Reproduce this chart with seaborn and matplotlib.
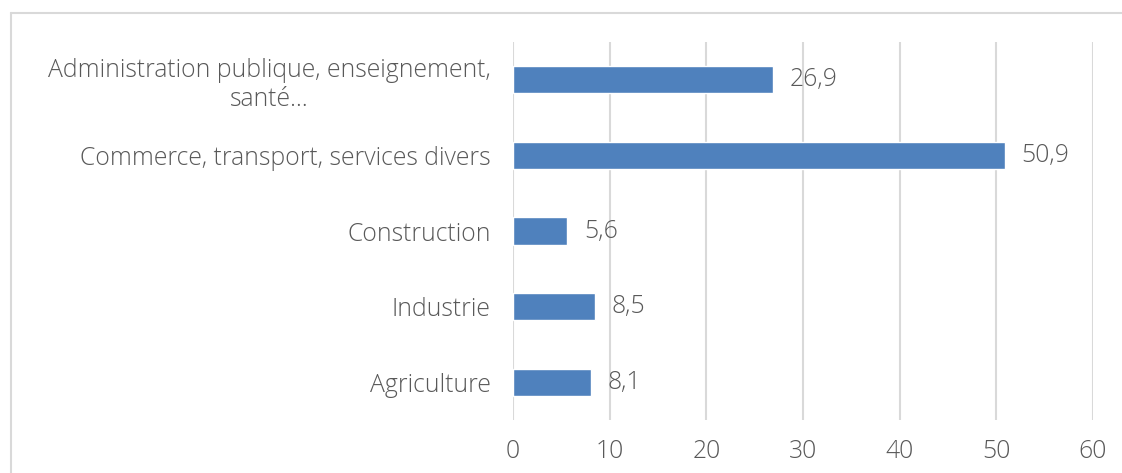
import pandas as pd
import seaborn as sns
import matplotlib.pyplot as plt
from matplotlib.lines import Line2D

# secteurs d'activité (de haut en bas)
secteurs = [
    'Administration publique, enseignement,\nsanté…',
    'Commerce, transport, services divers',
    'Construction',
    'Industrie',
    'Agriculture',
]
parts = [26.9, 50.9, 5.6, 8.5, 8.1]
ticks_x = [0, 10, 20, 30, 40, 50, 60]

df = pd.DataFrame({'secteur': secteurs, 'part': parts})

sns.set_theme(style='white')
plt.rcParams['font.family'] = ['Open Sans', 'DejaVu Sans']
plt.rcParams['font.weight'] = 'light'
text_color = '#595959'
grid_color = '#D9D9D9'
fs = 17.8

fig = plt.figure(figsize=(11.22, 4.73), dpi=100)
ax = fig.add_axes([513 / 1122, 1 - 420 / 473, 580 / 1122, 378 / 473])

sns.barplot(data=df, x='part', y='secteur', orient='h', color='#4F81BD',
            saturation=1, width=0.36, ax=ax)

ax.set_xlim(0, 60)
ax.set_ylim(4.5, -0.5)
ax.set_xticks(ticks_x)
ax.set_xlabel('')
ax.set_ylabel('')
ax.grid(axis='x', color=grid_color, linewidth=1.5)
ax.set_axisbelow(True)
for s in ax.spines.values():
    s.set_visible(False)

ax.tick_params(axis='x', length=0, pad=14, labelsize=fs, labelcolor=text_color)
ax.tick_params(axis='y', length=0, pad=16, labelsize=fs, labelcolor=text_color)
for lbl in ax.get_yticklabels():
    lbl.set_multialignment('center')
    lbl.set_linespacing(1.2)

ax.bar_label(ax.containers[0], labels=[f'{v:.1f}'.replace('.', ',') for v in parts],
             padding=12, fontsize=fs, color=text_color)

# cadre gris clair du graphique
x0, y0 = 11 / 1122, 1 - 13 / 473
fig.add_artist(Line2D([x0, 1], [y0, y0], color=grid_color, linewidth=1.5, transform=fig.transFigure))
fig.add_artist(Line2D([x0, x0], [0, y0], color=grid_color, linewidth=1.5, transform=fig.transFigure))

fig.savefig('out.png', dpi=100)
